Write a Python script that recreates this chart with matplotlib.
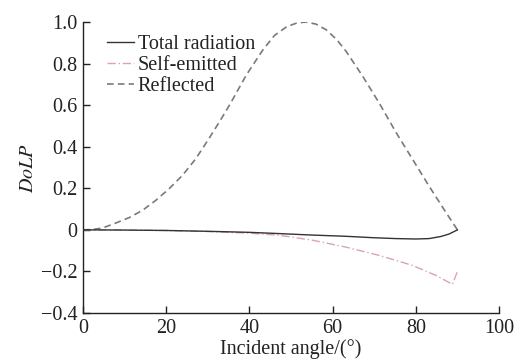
import matplotlib
matplotlib.use('Agg')
import matplotlib.pyplot as plt
from matplotlib.ticker import FuncFormatter

plt.rcParams['font.family'] = ['Liberation Serif', 'DejaVu Serif']
plt.rcParams['mathtext.fontset'] = 'stix'

# values
ang_refl = [0, 2.4, 4.7, 7.9, 11.1, 14.3, 17.5, 20.7, 23.9, 27.1, 30.3, 33.1, 35.2, 39.2, 43.2,
            46, 49, 51.5, 53.6, 56, 58.5, 61, 63.2, 67.2, 71.2, 75.2, 79.2, 83.2, 87.2, 90]
dolp_refl = [0, 0.002, 0.009, 0.033, 0.059, 0.094, 0.142, 0.198, 0.262, 0.342, 0.44, 0.53, 0.6,
             0.743, 0.865, 0.935, 0.978, 0.996, 1.0, 0.99, 0.962, 0.915, 0.86, 0.74, 0.61, 0.47,
             0.34, 0.21, 0.085, 0.0]

ang_tot = [0, 10, 20, 30, 40, 47.2, 55, 63.2, 70, 75.2, 80, 83.2, 86, 88, 90]
dolp_tot = [0, -0.001, -0.003, -0.007, -0.012, -0.018, -0.025, -0.031, -0.038, -0.042, -0.044,
            -0.042, -0.032, -0.02, 0.0]

ang_self = [0, 10, 20, 30, 40, 47.2, 55.2, 63.2, 71.2, 79.2, 84.8, 88.8, 90]
dolp_self = [0, -0.001, -0.003, -0.008, -0.016, -0.026, -0.05, -0.083, -0.123, -0.171, -0.219,
             -0.262, -0.20]

fig = plt.figure(figsize=(5.15, 3.61), dpi=100)
ax = fig.add_axes([0.1612, 0.133, 0.8078, 0.806])

ax.plot(ang_tot, dolp_tot, color='#333333', lw=1.0, ls='-', label='Total radiation', zorder=3)
ax.plot(ang_self, dolp_self, color='#dca4ad', lw=1.0, ls=(0, (6, 2, 1, 2)), label='Self-emitted', zorder=2)
ax.plot(ang_refl, dolp_refl, color='#7a7a7a', lw=1.2, ls=(0, (4, 2.5)), label='Reflected', zorder=2)

ax.set_xlim(0, 100)
ax.set_ylim(-0.4, 1.0)
ax.set_xticks([0, 20, 40, 60, 80, 100])
ax.set_yticks([-0.4, -0.2, 0, 0.2, 0.4, 0.6, 0.8, 1.0])

def yfmt(v, pos):
    if abs(v) < 1e-9:
        return '0'
    return ('%.1f' % v).replace('-', '\u2212')

ax.yaxis.set_major_formatter(FuncFormatter(yfmt))
ax.spines['top'].set_visible(False)
ax.spines['right'].set_visible(False)
for s in ['left', 'bottom']:
    ax.spines[s].set_linewidth(1.0)
    ax.spines[s].set_color('#222222')
ax.tick_params(direction='in', length=5, width=1.0, labelsize=14.5, colors='#222222', pad=4)

ax.set_xlabel('Incident angle/(°)', fontsize=14.5, labelpad=1, color='#222222')
ax.set_ylabel('$DoLP$', fontsize=14.5, labelpad=2, color='#222222')

leg = ax.legend(loc='upper left', bbox_to_anchor=(0.054, 0.963), frameon=False, fontsize=14.5,
                handlelength=1.3, handletextpad=0.2, labelspacing=0.1, borderaxespad=0.0,
                borderpad=0.1)
for t in leg.get_texts():
    t.set_color('#222222')

fig.savefig('out.png', dpi=100)
